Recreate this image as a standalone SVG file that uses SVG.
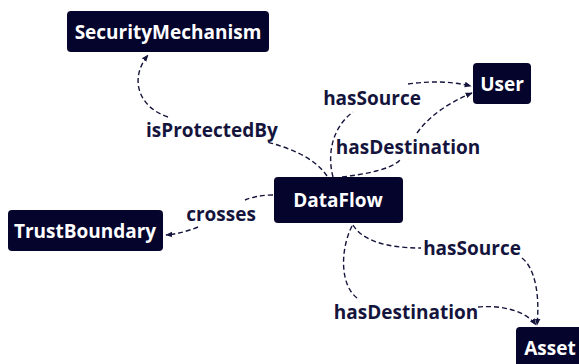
<svg xmlns="http://www.w3.org/2000/svg" width="579" height="364" viewBox="0 0 579 364">
<style>
.box{fill:#04042c}
.nt{font-family:"Open Sans","Liberation Sans",sans-serif;font-weight:700;font-size:19px;fill:#ffffff;text-anchor:middle;dominant-baseline:central}
.lt{font-family:"Open Sans","Liberation Sans",sans-serif;font-weight:700;font-size:19px;fill:#14143c;text-anchor:middle;dominant-baseline:central}
.e{fill:none;stroke:#14143c;stroke-width:1.4;stroke-dasharray:5 3}
</style>
<defs>
<marker id="ah" viewBox="0 0 10 10" refX="9" refY="5" markerWidth="7" markerHeight="7" orient="auto" markerUnits="userSpaceOnUse">
<path d="M0,1 L10,5 L0,9 z" fill="#14143c"/>
</marker>
</defs>
<rect width="579" height="364" fill="#ffffff"/>
<g id="connectors">
<path class="e" d="M327,176 C315,158 290,148 267,142"/>
<path class="e" d="M168,117 C140,108 128,80 148,55" marker-end="url(#ah)"/>
<path class="e" d="M333,177 C326,150 335,125 353,112"/>
<path class="e" d="M408,84 C430,81 450,81 471,86" marker-end="url(#ah)"/>
<path class="e" d="M342,177 C365,174 390,170 400,160"/>
<path class="e" d="M417,133 C430,115 450,102 472,93" marker-end="url(#ah)"/>
<path class="e" d="M273,195 C262,195 252,197 245,200"/>
<path class="e" d="M198,227 C188,231 178,234 166,235" marker-end="url(#ah)"/>
<path class="e" d="M353,225 C362,240 385,248 421,248"/>
<path class="e" d="M522,258 C535,268 540,295 537,325" marker-end="url(#ah)"/>
<path class="e" d="M352,226 C340,250 340,285 357,298"/>
<path class="e" d="M478,307 C500,305 525,310 536,325" marker-end="url(#ah)"/>
<text class="lt" x="212" y="130">isProtectedBy</text>
<text class="lt" x="372" y="98">hasSource</text>
<text class="lt" x="408" y="147">hasDestination</text>
<text class="lt" x="221" y="214">crosses</text>
<text class="lt" x="472" y="248">hasSource</text>
<text class="lt" x="406" y="312">hasDestination</text>
</g>
<g id="SecurityMechanism"><rect class="box" x="67" y="11" width="202" height="41" rx="4"/><text class="nt" x="168" y="32">SecurityMechanism</text></g>
<g id="User"><rect class="box" x="473" y="63" width="58" height="41" rx="4"/><text class="nt" x="502" y="84">User</text></g>
<g id="DataFlow"><rect class="box" x="274" y="177" width="129" height="46" rx="4"/><text class="nt" x="338" y="200">DataFlow</text></g>
<g id="TrustBoundary"><rect class="box" x="8" y="210" width="155" height="41" rx="4"/><text class="nt" x="85" y="231">TrustBoundary</text></g>
<g id="Asset"><rect class="box" x="516" y="327" width="68" height="42" rx="4"/><text class="nt" x="550" y="348">Asset</text></g>
</svg>
